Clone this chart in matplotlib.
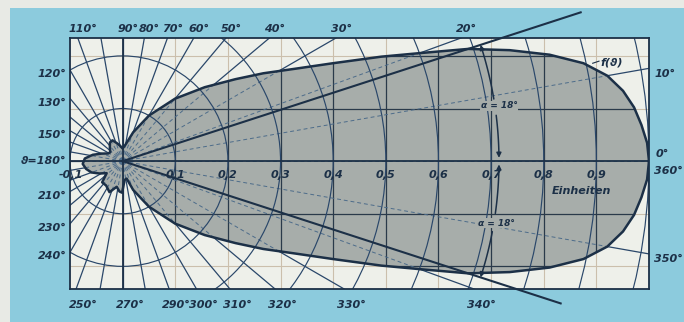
import numpy as np
import matplotlib
matplotlib.use('Agg')
import matplotlib.pyplot as plt
from matplotlib.patches import Polygon, Circle, Rectangle, FancyArrowPatch
from matplotlib.path import Path

# Richtcharakteristik f(theta) in Einheiten
theta_deg = [0, 2, 4, 6, 8, 10, 12, 14, 16, 18, 20, 22, 25, 28, 32, 36, 42, 50, 60, 70, 80, 90,
             100, 108, 116, 124, 134, 144, 152, 160, 168, 176, 184, 192, 200, 208, 217, 226,
             236, 247, 257, 264, 269, 276, 283,
             290, 300, 310, 318, 324, 328, 332, 335, 338, 340, 342, 344, 346, 348, 350,
             352, 354, 356, 358, 360]
f_theta = [1.0, 0.997, 0.988, 0.977, 0.96, 0.935, 0.895, 0.836, 0.765, 0.69, 0.60, 0.53, 0.44,
           0.375, 0.315, 0.265, 0.21, 0.155, 0.10, 0.058, 0.032, 0.024,
           0.030, 0.036, 0.044, 0.043, 0.035, 0.029, 0.031, 0.042, 0.058, 0.072, 0.076, 0.071,
           0.063, 0.050, 0.038, 0.056, 0.056, 0.064, 0.050, 0.058, 0.060, 0.036, 0.034,
           0.058, 0.10, 0.155, 0.21, 0.265, 0.315, 0.375, 0.44, 0.53, 0.60, 0.69, 0.765,
           0.836, 0.895, 0.935, 0.96, 0.977, 0.988, 0.997, 1.0]

alpha_deg = 18
ringe = [0.1, 0.2, 0.3, 0.4, 0.5, 0.6, 0.7, 0.8, 0.9, 1.0]
x_ticks = [0.1, 0.2, 0.3, 0.4, 0.5, 0.6, 0.7, 0.8, 0.9]
x_labels = ['0,1', '0,2', '0,3', '0,4', '0,5', '0,6', '0,7', '0,8', '0,9']
y_gitter = [-0.2, -0.1, 0.1, 0.2]
winkel_oben = [110, 90, 80, 70, 60, 50, 40, 30, 20]
winkel_unten = [250, 270, 290, 300, 310, 320, 330, 340]
winkel_links = [120, 130, 150, 210, 230, 240]
winkel_rechts = [10, 350]

blau = '#8ccbdd'
papier = '#eef0ea'
grau = '#a7adaa'
dunkel = '#1c3047'
linie = '#2a476a'
hell = '#cbbfac'

X0, X1, Y0, Y1 = -0.1, 1.0, -0.243, 0.234

fig = plt.figure(figsize=(6.84, 3.22), dpi=100, facecolor='#e8eae5')
fig.patches.append(Rectangle((10 / 684, 0), 674 / 684, 314 / 322, transform=fig.transFigure,
                             facecolor=blau, edgecolor='none', zorder=-1))
ax = fig.add_axes([70 / 684, 33 / 322, 579 / 684, 251 / 322])
ax.set_facecolor(papier)
ax.set_xlim(X0, X1)
ax.set_ylim(Y0, Y1)
ax.set_xticks([])
ax.set_yticks([])
for s in ax.spines.values():
    s.set_linewidth(1.3)
    s.set_color(dunkel)
    s.set_zorder(10)

t = np.radians(theta_deg)
r = np.array(f_theta)
xs, ys = r * np.cos(t), r * np.sin(t)

keule = Polygon(np.column_stack([xs, ys]), closed=True, facecolor=grau, edgecolor='none', zorder=3)
ax.add_patch(keule)

# kartesisches Gitter: hell auf Papier, dunkel in der Keule
for v in x_ticks:
    ax.axvline(v, color=hell, lw=0.8, zorder=1)
    ln = ax.axvline(v, color='#2a3a4a', lw=0.9, zorder=4)
    ln.set_clip_path(keule)
for v in y_gitter:
    ax.axhline(v, color=hell, lw=0.8, zorder=1)
    ln = ax.axhline(v, color='#2a3a4a', lw=0.9, zorder=4)
    ln.set_clip_path(keule)

# Strahlen alle 10 Grad
for a in range(0, 360, 10):
    ca, sa = np.cos(np.radians(a)), np.sin(np.radians(a))
    ax.plot([0, 2 * ca], [0, 2 * sa], color=linie, lw=0.9, zorder=2)
    ln, = ax.plot([0, 2 * ca], [0, 2 * sa], color='#4d6c8a', lw=0.7, ls=(0, (4, 3)), zorder=4)
    ln.set_clip_path(keule)

for rr in ringe:
    ax.add_patch(Circle((0, 0), rr, fill=False, edgecolor=linie, lw=0.85, zorder=4))

ax.axhline(0, color=dunkel, lw=1.3, zorder=5)
ax.axvline(0, color=dunkel, lw=1.3, zorder=5)

ax.plot(xs, ys, color=dunkel, lw=1.8, zorder=6, solid_joinstyle='round')

# Tangenten unter alpha = 18 Grad
a18 = np.radians(alpha_deg)
ax.plot([0, 0.915 * np.cos(a18)], [0, 0.915 * np.sin(a18)], color=dunkel, lw=1.5,
        zorder=6, clip_on=False)
ax.plot([0, 0.875 * np.cos(a18)], [0, -0.875 * np.sin(a18)], color=dunkel, lw=1.5,
        zorder=6, clip_on=False)

# Winkelpfeile
ra = 0.715


def bogen(w1, w2, kopf):
    ww = np.radians(np.linspace(w1, w2, 20))
    p = Path(np.column_stack([ra * np.cos(ww), ra * np.sin(ww)]))
    ax.add_patch(FancyArrowPatch(path=p, arrowstyle=kopf, mutation_scale=7, color=dunkel,
                                 lw=1.1, zorder=7))


bogen(9.5, alpha_deg, '-|>')
bogen(7.0, 0.5, '-|>')
bogen(-10.8, -alpha_deg, '-|>')
bogen(-8.0, -0.5, '-|>')

txt = dict(color=dunkel, fontstyle='italic', fontweight='bold', fontsize=8, family='DejaVu Sans')
klein = dict(color=dunkel, fontstyle='italic', fontweight='bold', fontsize=6.5, zorder=8)
ax.text(0.715, 0.105, 'α = 18°', ha='center', va='center',
        bbox=dict(fc=grau, ec='none', pad=0.5), **klein)
ax.text(0.711, -0.118, 'α = 18°', ha='center', va='center',
        bbox=dict(fc=grau, ec='none', pad=0.5), **klein)

for v, s in zip(x_ticks, x_labels):
    ax.text(v, -0.027, s, ha='center', va='center', zorder=8, **txt)
ax.text(X0 + 0.002, -0.027, '-0,1', ha='center', va='center', zorder=8, **txt)
ax.text(0.871, -0.057, 'Einheiten', ha='center', va='center', zorder=8, **txt)
ax.text(0.93, 0.188, 'f(ϑ)', ha='center', va='center', zorder=8, **txt)
ax.plot([0.893, 0.905], [0.186, 0.19], color=dunkel, lw=0.8, zorder=8)

# Gradzahlen am Rand
for a in winkel_oben:
    x = Y1 / np.tan(np.radians(a))
    ax.text(x + 0.01, Y1 + 0.017, f'{a}°', ha='center', va='center', **txt)
for a in winkel_unten:
    x = Y0 / np.tan(np.radians(a))
    ax.text(x + 0.014, Y0 - 0.03, f'{a}°', ha='center', va='center', **txt)
for a in winkel_links:
    y = X0 * np.tan(np.radians(a))
    ax.text(X0 - 0.006, y - 0.008, f'{a}°', ha='right', va='center', **txt)
ax.text(X0 - 0.006, 0.0, 'ϑ=180°', ha='right', va='center', **txt)
for a in winkel_rechts:
    y = X1 * np.tan(np.radians(a))
    ax.text(X1 + 0.01, y - 0.01, f'{a}°', ha='left', va='center', **txt)
ax.text(X1 + 0.012, 0.013, '0°', ha='left', va='center', **txt)
ax.text(X1 + 0.01, -0.018, '360°', ha='left', va='center', **txt)

fig.savefig('out.png', dpi=100, facecolor=fig.get_facecolor())
